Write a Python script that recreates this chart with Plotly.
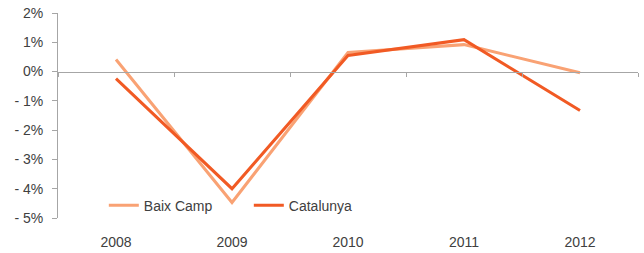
import plotly.graph_objects as go

years = ["2008", "2009", "2010", "2011", "2012"]
baix_camp = [0.41, -4.47, 0.65, 0.92, -0.04]
catalunya = [-0.24, -4.00, 0.55, 1.09, -1.33]

y_ticks = [2, 1, 0, -1, -2, -3, -4, -5]
y_tick_text = ["2%", "1%", "0%", "-\u00a01%", "-\u00a02%", "-\u00a03%", "-\u00a04%", "-\u00a05%"]

font = dict(family="Liberation Sans, Arial, sans-serif", size=14, color="#404040")
axis_grey = "#A6A6A6"

fig = go.Figure()
fig.add_trace(go.Scatter(x=years, y=baix_camp, mode="lines", name="Baix Camp",
                         line=dict(color="#F9A274", width=3)))
fig.add_trace(go.Scatter(x=years, y=catalunya, mode="lines", name="Catalunya",
                         line=dict(color="#F15A24", width=3)))
fig.add_trace(go.Scatter(x=years, y=[None] * len(years), xaxis="x2", mode="lines",
                         showlegend=False, hoverinfo="skip"))

fig.update_layout(
    width=644, height=253,
    margin=dict(l=58, r=6, t=13, b=35, autoexpand=False),
    paper_bgcolor="white", plot_bgcolor="white",
    font=font,
    showlegend=True,
    legend=dict(orientation="h", x=0.079, y=0.06, xanchor="left", yanchor="middle",
                bgcolor="rgba(0,0,0,0)", font=font, itemwidth=30, entrywidth=100,
                entrywidthmode="pixels"),
    xaxis=dict(type="category", range=[-0.5, 4.5], showline=False, showgrid=False,
               zeroline=False, ticks="", ticklabelstandoff=14, tickfont=font,
               automargin=False, ticklabeloverflow="allow"),
    xaxis2=dict(type="category", range=[-0.5, 4.5], overlaying="x", anchor="free",
                position=5 / 7, side="bottom", showline=True, linecolor=axis_grey,
                linewidth=1, ticks="outside", ticklen=4, tickcolor=axis_grey,
                tickson="boundaries", showticklabels=False, showgrid=False,
                zeroline=False, matches="x", automargin=False),
    yaxis=dict(range=[-5, 2], tickvals=y_ticks, ticktext=y_tick_text, showgrid=False,
               zeroline=False, showline=True, linecolor=axis_grey, linewidth=1,
               ticks="outside", ticklen=5, tickcolor=axis_grey, ticklabelstandoff=6,
               tickfont=font, automargin=False, ticklabeloverflow="allow"),
)

fig.write_html("out.html", config={"displayModeBar": False},
               post_script="document.body.style.margin='0';")
